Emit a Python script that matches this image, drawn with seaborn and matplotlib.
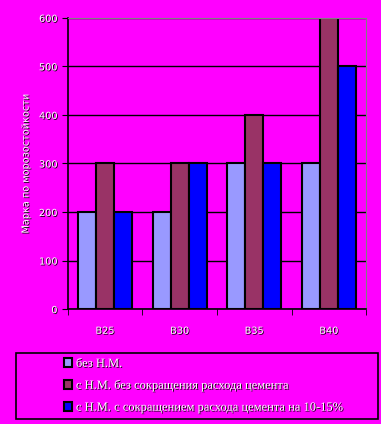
import pandas as pd
import matplotlib
matplotlib.use('Agg')
import matplotlib.pyplot as plt
import matplotlib.patheffects as pe
from matplotlib.patches import Rectangle
import seaborn as sns

# ── Data ──────────────────────────────────────────────────────────────────────
grades = ['В25', 'В30', 'В35', 'В40']
series = ['без Н.М.',
          'с Н.М. без сокращения расхода цемента',
          'с Н.М. с сокращением расхода цемента на 10-15%']
no_additive = [200, 200, 300, 300]
additive_full_cement = [300, 300, 400, 600]
additive_less_cement = [200, 300, 300, 500]
colors = ['#9999FF', '#993366', '#0000FF']

df = pd.DataFrame({
    'grade': grades * 3,
    'series': [series[0]] * 4 + [series[1]] * 4 + [series[2]] * 4,
    'value': no_additive + additive_full_cement + additive_less_cement,
})

bg = '#FF00FF'
sns.set_style('white')
plt.rcParams['font.family'] = ['DejaVu Sans']

fig = plt.figure(figsize=(3.81, 4.24), dpi=100, facecolor=bg)
ax = fig.add_axes([0.178, 0.271, 0.783, 0.687])
ax.set_facecolor(bg)

sns.barplot(data=df, x='grade', y='value', hue='series', palette=colors,
            width=0.72, edgecolor='black', linewidth=1.5, saturation=1,
            ax=ax, legend=True)

ax.set_ylim(0, 600)
ax.set_xlim(-0.5, 3.5)
ax.set_yticks(range(0, 601, 100))
ax.yaxis.grid(True, color='black', linewidth=1)
ax.set_axisbelow(True)

shadow = [pe.withSimplePatchShadow(offset=(0.6, -0.6), shadow_rgbFace='black', alpha=1)]
ax.tick_params(axis='y', length=4, color='black', labelsize=7, labelcolor='white', direction='out', left=True)
ax.tick_params(axis='x', which='major', length=0, labelsize=7, labelcolor='white', pad=12)
ax.set_xticks([-0.5, 0.5, 1.5, 2.5, 3.5], minor=True)
ax.tick_params(axis='x', which='minor', length=4, color='black', direction='out', bottom=True)
for lbl in ax.get_xticklabels() + ax.get_yticklabels():
    lbl.set_path_effects(shadow)

ax.set_xlabel('')
ax.set_ylabel('Марка по морозостойкости', color='white', fontsize=7, labelpad=6,
              path_effects=shadow)

for side in ['top', 'right']:
    ax.spines[side].set_color('gray')
for side in ['left', 'bottom']:
    ax.spines[side].set_color('black')
    ax.spines[side].set_linewidth(1.2)

# legend in a separate box below the plot
handles, labels = ax.get_legend_handles_labels()
ax.get_legend().remove()
fig.patches.append(Rectangle((16 / 381, 5 / 424), 362 / 381, 66 / 424,
                             transform=fig.transFigure, facecolor=bg,
                             edgecolor='black', linewidth=1.2))
leg = fig.legend(handles, labels, loc='upper left', bbox_to_anchor=(0.155, 0.168),
                 frameon=False, prop={'family': 'Liberation Serif', 'size': 9},
                 handlelength=0.65, handleheight=0.8,
                 handletextpad=0.3, labelspacing=0.78, borderaxespad=0)
for t in leg.get_texts():
    t.set_color('white')
    t.set_path_effects(shadow)

fig.savefig('out.png', dpi=100, facecolor=bg)
